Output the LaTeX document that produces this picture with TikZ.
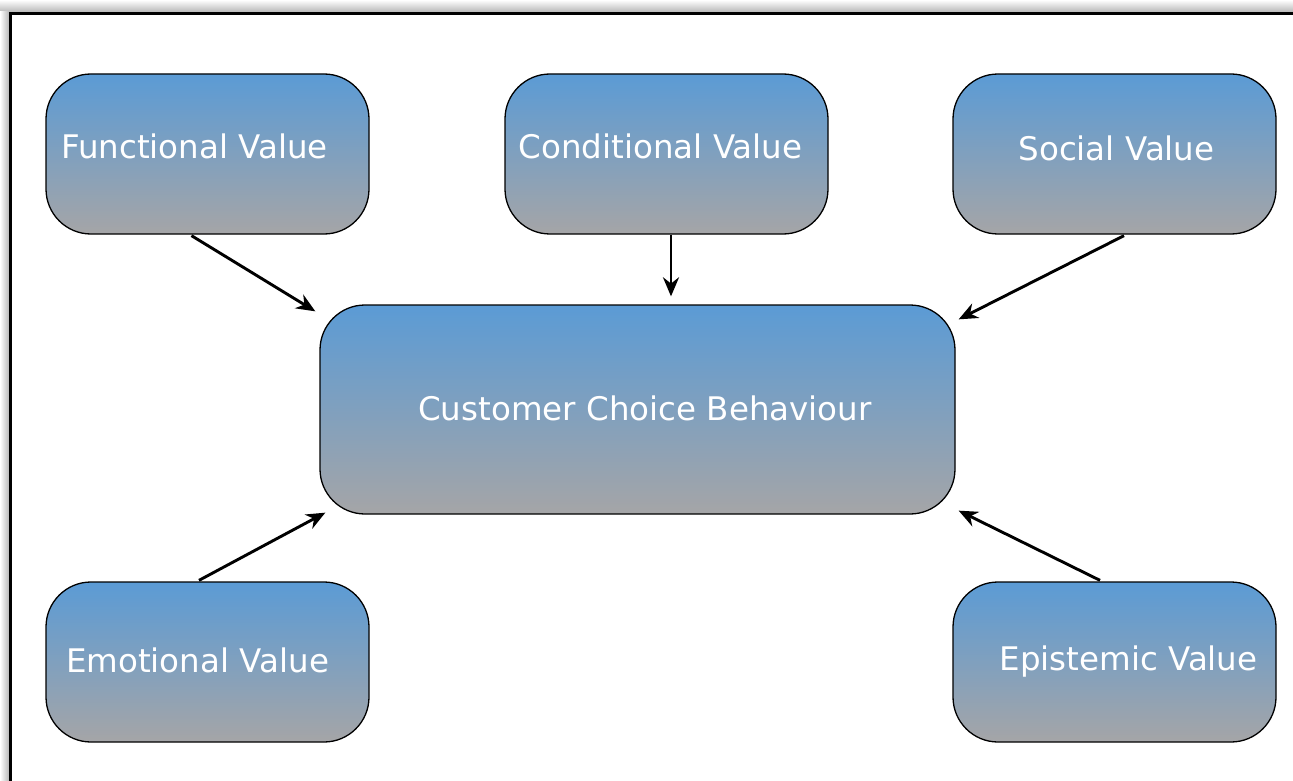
\documentclass[tikz,border=0pt]{standalone}
\usepackage{fontspec}
\setmainfont{DejaVu Sans}
\usetikzlibrary{shapes,arrows.meta,positioning,calc}

\definecolor{boxtop}{RGB}{91,155,213}
\definecolor{boxbot}{RGB}{165,165,167}

\tikzset{
    valuebox/.style={draw=black, line width=1.3pt, rounded corners=45pt,
        top color=boxtop, bottom color=boxbot, text=white,
        minimum width=323pt, minimum height=160pt, inner sep=0pt,
        font=\fontsize{32.5}{38}\selectfont},
    link/.style={line width=2.9pt, -{Stealth[length=19pt,width=16pt]}}
}

\begin{document}
\begin{tikzpicture}[x=1pt,y=-1pt]
            \useasboundingbox (0,0) rectangle (1293,781);
            % page frame with its shadow
            \shade[top color=white, bottom color=black!28] (0,0) rectangle (1293,12);
            \shade[left color=white, right color=black!28] (0,12) rectangle (9,781);
            \draw[line width=3pt] (10.5,785) -- (10.5,13.5) -- (1297,13.5);

            \node[valuebox, minimum width=635pt, minimum height=209pt] (ccb) at (637.5,409.5) {\hspace*{15pt}\raisebox{3pt}{Customer Choice Behaviour}};

            \node[valuebox] (func) at (207.5,154) {\hspace*{-26pt}\raisebox{16pt}{Functional Value}};
            \node[valuebox] (cond) at (666.5,154) {\hspace*{-12pt}\raisebox{16pt}{Conditional Value}};
            \node[valuebox] (soc) at (1114.5,154) {\hspace*{4pt}\raisebox{12pt}{Social Value}};
            \node[valuebox] (emo) at (207.5,662) {\hspace*{-20pt}\raisebox{3pt}{Emotional Value}};
            \node[valuebox] (epi) at (1114.5,662) {\hspace*{28pt}Epistemic Value};

            \draw[link] ($(func.south)+(-16,1)$) -- ($(ccb.north west)+(-4,7)$);
            \draw[link] ($(cond.south)+(4.5,0)$) -- ($(ccb.north)+(33.5,-8)$);
            \draw[link] ($(soc.south)+(9.5,1)$) -- ($(ccb.north east)+(3,15)$);
            \draw[link] ($(emo.north)+(-8.5,-1)$) -- ($(ccb.south west)+(6,-2)$);
            \draw[link] ($(epi.north)+(-14.5,-1)$) -- ($(ccb.south east)+(3,-4)$);
        \end{tikzpicture}
\end{document}
